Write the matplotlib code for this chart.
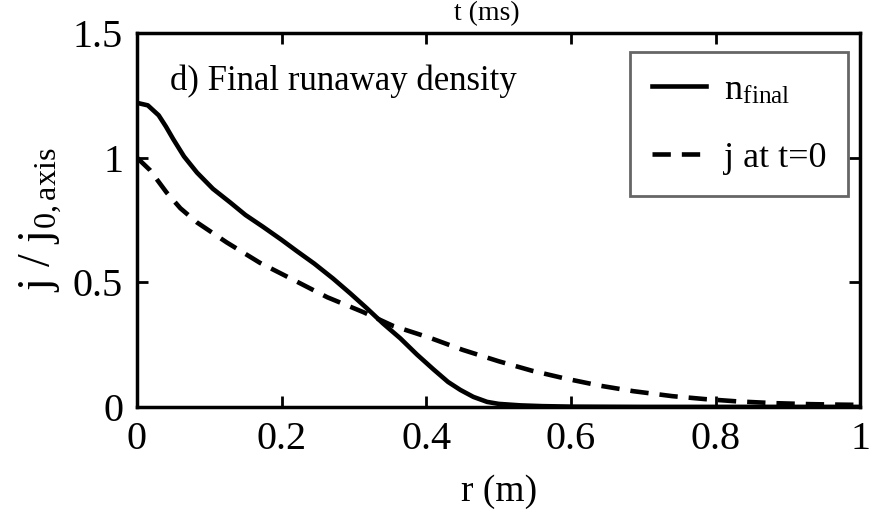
import matplotlib
matplotlib.use("Agg")
import matplotlib.pyplot as plt

plt.rcParams["font.family"] = "Liberation Serif"
plt.rcParams["mathtext.fontset"] = "stix"

# radial profiles
r_final = [0, 0.015, 0.03, 0.04, 0.05, 0.065, 0.083, 0.105, 0.129, 0.15, 0.174,
           0.2, 0.221, 0.245, 0.271, 0.295, 0.318, 0.34, 0.364, 0.387, 0.41,
           0.43, 0.447, 0.465, 0.484, 0.5, 0.53, 0.56, 0.6, 0.7, 0.8, 0.9, 1.0]
n_final = [1.22, 1.21, 1.17, 1.125, 1.075, 1.005, 0.94, 0.875, 0.82, 0.77, 0.723,
           0.67, 0.625, 0.575, 0.515, 0.455, 0.395, 0.335, 0.275, 0.21, 0.15,
           0.1, 0.068, 0.04, 0.02, 0.012, 0.006, 0.003, 0.001, 0.0, 0.0, 0.0, 0.0]

r_j0 = [0, 0.018, 0.041, 0.06, 0.083, 0.124, 0.17, 0.216, 0.263, 0.313, 0.354,
        0.405, 0.45, 0.5, 0.546, 0.59, 0.64, 0.686, 0.74, 0.786, 0.83, 0.88,
        0.93, 0.97, 1.0]
j_t0 = [1.0, 0.95, 0.86, 0.797, 0.74, 0.66, 0.578, 0.51, 0.44, 0.38, 0.325,
        0.277, 0.229, 0.183, 0.145, 0.115, 0.085, 0.063, 0.043, 0.031, 0.022,
        0.015, 0.011, 0.009, 0.008]

xticks = [0, 0.2, 0.4, 0.6, 0.8, 1]
xticklabels = ["0", "0.2", "0.4", "0.6", "0.8", "1"]
yticks = [0, 0.5, 1, 1.5]
yticklabels = ["0", "0.5", "1", "1.5"]

fig = plt.figure(figsize=(8.78, 5.25), dpi=100)
ax = fig.add_axes([0.156, 0.225, 0.824, 0.712])

ax.plot(r_final, n_final, color="black", lw=3.3, label=r"n$_{\mathregular{final}}$")
ax.plot(r_j0, j_t0, color="black", lw=3.3, linestyle=(0, (4, 2.4)), label="j at t=0")

ax.set_xlim(0, 1)
ax.set_ylim(0, 1.5)
ax.set_xticks(xticks)
ax.set_xticklabels(xticklabels)
ax.set_yticks(yticks)
ax.set_yticklabels(yticklabels)
ax.tick_params(direction="in", length=8, width=2, labelsize=29, pad=10,
               top=True, right=True)

for s in ax.spines.values():
    s.set_linewidth(2.5)

ax.set_xlabel("r (m)", fontsize=27, labelpad=12)
ax.set_ylabel(r"j / j$_{\mathregular{0,axis}}$", fontsize=33, labelpad=6)

ax.text(0.046, 0.87, "d) Final runaway density", transform=ax.transAxes,
        fontsize=25, va="center", ha="left")

leg = ax.legend(loc="upper right", bbox_to_anchor=(0.983, 0.949), borderaxespad=0,
                fontsize=26, fancybox=False, framealpha=1, handlelength=1.5,
                handletextpad=0.5, borderpad=0.6, labelspacing=0.95)
leg.get_frame().set_edgecolor("#666666")
leg.get_frame().set_linewidth(2)

# leftover axis label of the panel above, at the image edge
fig.text(0.555, 0.998, "t (ms)", fontsize=20, ha="center", va="top")

fig.savefig("out.png", dpi=100)
